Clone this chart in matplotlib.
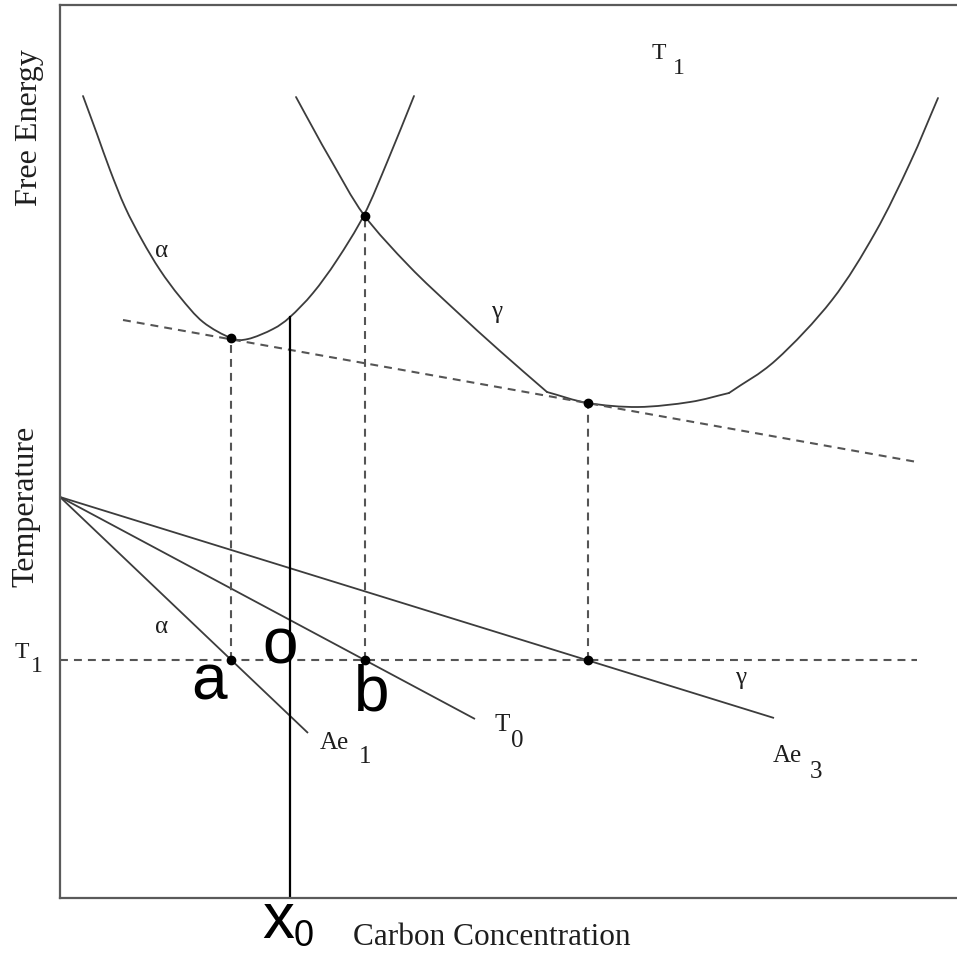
import numpy as np
import matplotlib
matplotlib.use("Agg")
import matplotlib.pyplot as plt
from matplotlib.path import Path
from matplotlib.patches import PathPatch

# ---- free-energy curves at temperature T1 (carbon concentration, free energy) ----
alpha_x = [23, 37, 50, 65, 82, 100, 120, 143, 171, 188, 213, 230, 253, 277, 304, 328, 354]
alpha_g = [802, 764, 728, 691, 658, 628, 601, 576, 560, 559, 569, 581, 605, 638, 683, 738, 802]

# gamma curve: left branch, flat bottom, right branch (corners at the joins)
gamma_left_x = [236, 254, 272, 304, 349, 395, 440, 487]
gamma_left_g = [801, 768, 736, 683, 632, 588, 547, 506]
gamma_bottom_x = [487, 528, 578, 630, 669]
gamma_bottom_g = [506, 495, 491, 496, 505]
gamma_right_x = [669, 716, 772, 815, 850, 878]
gamma_right_g = [505, 538, 598, 665, 735, 800]

# common tangent to both curves
tangent_x = [63, 857]
tangent_g = [578, 436]

# ---- phase diagram (carbon concentration, temperature) ----
origin_T = 401                      # temperature where all lines meet at zero carbon
ae1_x, ae1_T = [0, 248], [origin_T, 165]
t0_x, t0_T = [0, 415], [origin_T, 179]
ae3_x, ae3_T = [0, 714], [origin_T, 180]

T1 = 238                             # isotherm
T1_end = 857
conc_a = 171                         # alpha tangent composition
conc_b = 305                         # curve crossing (T0)
conc_c = 528                         # gamma tangent composition
x0 = 230                             # alloy composition

# ---- figure ----
W, H = 957, 955
fig = plt.figure(figsize=(W / 100, H / 100), dpi=100)
ax = fig.add_axes([60 / W, 57 / H, 915 / W, 893 / H])
ax.set_xlim(0, 915)
ax.set_ylim(0, 893)
ax.set_xticks([])
ax.set_yticks([])
for s in ("left", "bottom", "top"):
    ax.spines[s].set_color("#5a5a5a")
    ax.spines[s].set_linewidth(1.6)
ax.spines["right"].set_visible(False)

curve_color = "#3c3c3c"
curve_kw = dict(color=curve_color, lw=1.3, solid_capstyle="butt")
dash_kw = dict(color="#555555", lw=1.5, dashes=(3.8, 2.9))


def smooth_path(xs, ys):
    """Catmull-Rom spline through the given points, as cubic Bezier segments."""
    p = np.column_stack([xs, ys]).astype(float)
    if len(p) < 3:
        return Path(p)
    ext = np.vstack([2 * p[0] - p[1], p, 2 * p[-1] - p[-2]])
    verts = [tuple(p[0])]
    codes = [Path.MOVETO]
    for i in range(1, len(ext) - 2):
        p0, p1, p2, p3 = ext[i - 1], ext[i], ext[i + 1], ext[i + 2]
        c1 = p1 + (p2 - p0) / 6.0
        c2 = p2 - (p3 - p1) / 6.0
        verts += [tuple(c1), tuple(c2), tuple(p2)]
        codes += [Path.CURVE4] * 3
    return Path(verts, codes)


for xs, ys in ((alpha_x, alpha_g), (gamma_left_x, gamma_left_g),
               (gamma_bottom_x, gamma_bottom_g), (gamma_right_x, gamma_right_g)):
    ax.add_patch(PathPatch(smooth_path(xs, ys), facecolor="none",
                           edgecolor=curve_color, lw=1.3, capstyle="round"))

ax.plot(tangent_x, tangent_g, **dash_kw)

ax.plot(ae1_x, ae1_T, **curve_kw)
ax.plot(t0_x, t0_T, **curve_kw)
ax.plot(ae3_x, ae3_T, **curve_kw)

ax.plot([0, T1_end], [T1, T1], **dash_kw)

gamma_x = gamma_left_x + gamma_bottom_x[1:] + gamma_right_x[1:]
gamma_g = gamma_left_g + gamma_bottom_g[1:] + gamma_right_g[1:]
g_a = np.interp(conc_a, alpha_x, alpha_g)
g_b = np.interp(conc_b, gamma_x, gamma_g)
g_c = np.interp(conc_c, gamma_x, gamma_g)
g_x0 = np.interp(x0, alpha_x, alpha_g)

for c, g in ((conc_a, g_a), (conc_b, g_b), (conc_c, g_c)):
    ax.plot([c, c], [T1, g], **dash_kw)

ax.plot([x0, x0], [0, g_x0], color="black", lw=1.6)

dot_x = [conc_a, conc_b, conc_c, conc_a, conc_b, conc_c]
dot_y = [g_a, g_b, g_c, T1, T1, T1]
ax.plot(dot_x, dot_y, "o", color="black", ms=6, zorder=5)

# ---- text ----
serif = "Liberation Serif"
sans = "Liberation Sans"
tc = "#1e1e1e"


def t(x, y, s, size, fam=serif, **kw):
    ax.text(x, y, s, fontsize=size, family=fam, color=kw.pop("color", tc),
            ha=kw.pop("ha", "left"), va=kw.pop("va", "baseline"),
            clip_on=False, **kw)


t(-23, 770, "Free Energy", 23, rotation=90, ha="center", rotation_mode="anchor")
t(-27, 392, "Temperature", 23, rotation=90, ha="center", rotation_mode="anchor")
t(293, -47, "Carbon Concentration", 22.5)

t(-45, 240, "T", 17)
t(-29, 226, "1", 17)
t(592, 839, "T", 17)
t(613, 824, "1", 17)

t(95, 641, "α", 18)
t(431, 580, "γ", 18)
t(95, 265, "α", 18)
t(675, 214, "γ", 18)

t(260, 149, "Ae", 18)
t(299, 135, "1", 18)
t(435, 167, "T", 18)
t(451, 151, "0", 18)
t(713, 136, "Ae", 18)
t(750, 120, "3", 18)

big = dict(fam=sans, color="black")
t(131, 198, "a", 46, **big)
t(202, 235, "o", 46, **big)
t(294, 188, "b", 46, **big)
t(202, -40, "x", 46, **big)
t(234, -48, "0", 26, **big)

fig.savefig("out.png", dpi=100)
